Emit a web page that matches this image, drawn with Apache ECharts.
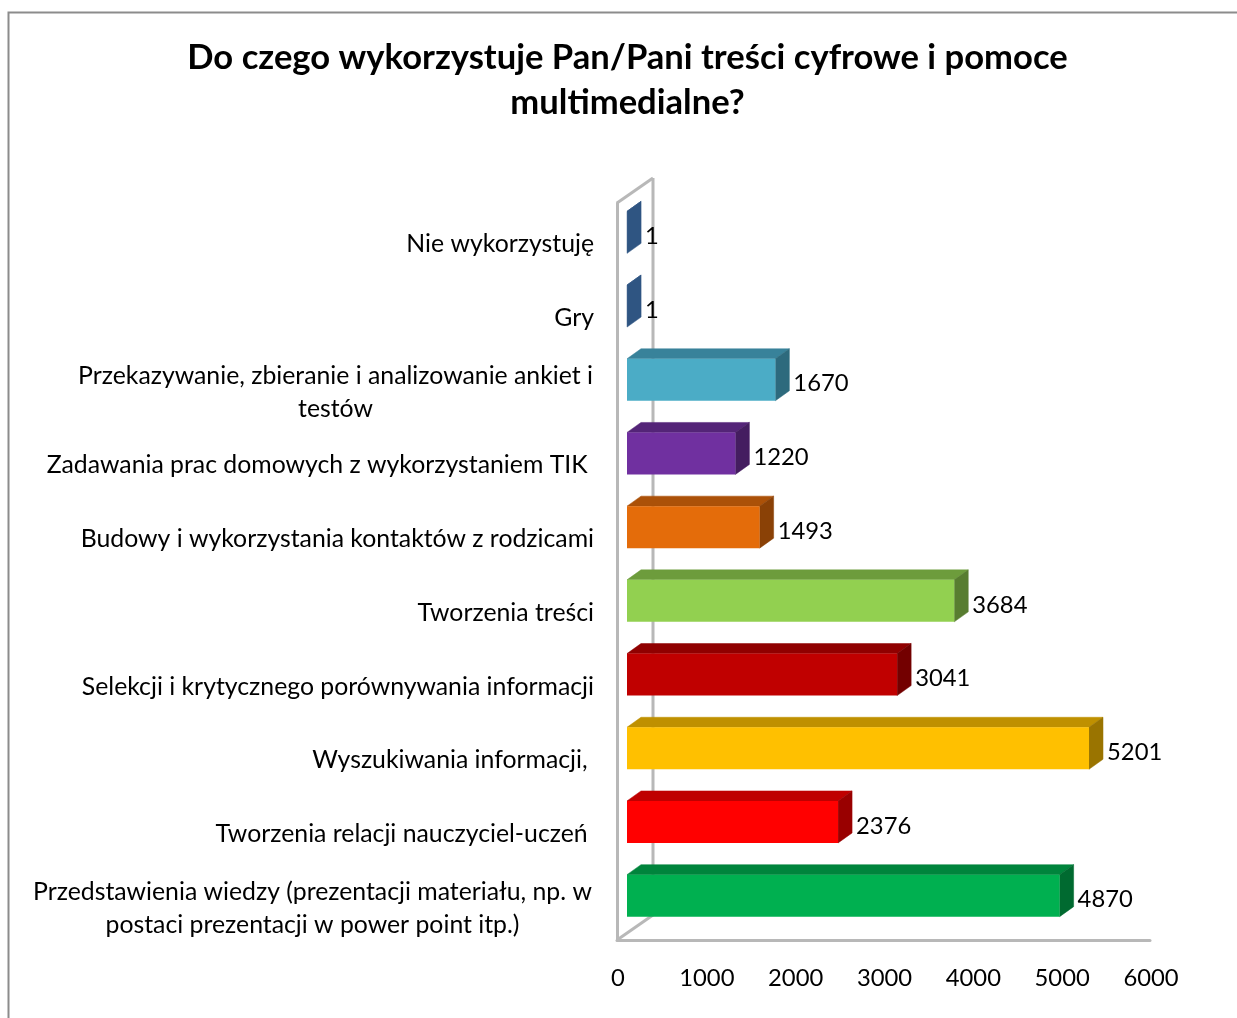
<!DOCTYPE html>
<html><head><meta charset="utf-8">
<style>html,body{margin:0;padding:0;background:#fff}#c{width:1237px;height:1018px}</style>
<script src="https://cdn.jsdelivr.net/npm/echarts@6/dist/echarts.min.js"></script>
</head><body><div id="c"></div>
<script>
const titleText = "Do czego wykorzystuje Pan/Pani treści cyfrowe i pomoce\nmultimedialne?";
const categories = [
  "Nie wykorzystuję",
  "Gry",
  "Przekazywanie, zbieranie i analizowanie ankiet i\ntestów",
  "Zadawania prac domowych z wykorzystaniem TIK ",
  "Budowy i wykorzystania kontaktów z rodzicami",
  "Tworzenia treści",
  "Selekcji i krytycznego porównywania informacji",
  "Wyszukiwania informacji, ",
  "Tworzenia relacji nauczyciel-uczeń ",
  "Przedstawienia wiedzy (prezentacji materiału, np. w\npostaci prezentacji w power point itp.)"
];
const values = [1, 1, 1670, 1220, 1493, 3684, 3041, 5201, 2376, 4870];
const xTicks = [0, 1000, 2000, 3000, 4000, 5000, 6000];
const faceColors = ["#1f497d","#1f497d","#4bacc6","#7030a0","#e46c0a","#92d050","#c00000","#ffc000","#ff0000","#00b050"];
const topColors  = ["#2f5582","#2f5582","#38829a","#542478","#ab5108","#6d9c3c","#900000","#bf9000","#bf0000","#00843c"];
const sideColors = ["#2f5582","#2f5582","#2d6a7d","#441d60","#8a4106","#587d30","#730000","#9a7400","#990000","#006a30"];

const FONT = "Lato";
const NUM_SIZE = 23.8;
const CAT_SIZE = 24.8;
const wallColor = "#b8b8b8";
const dx = 14, dy = 10;          // bar depth
const wallDx = 36, wallDy = 25;  // chart depth
const barLeftShift = 10, barUpShift = 7.5, barHeight = 42;

function barItem(params, api) {
  const i = api.value(0), v = api.value(1);
  const start = api.coord([0, i]);
  const end = api.coord([v, i]);
  const cy = start[1] - barUpShift;
  const x0 = start[0] + barLeftShift, x1 = end[0] + barLeftShift;
  const t = cy - barHeight / 2, b = cy + barHeight / 2;
  const poly = (pts, fill) => ({type: "polygon", shape: {points: pts}, style: {fill, stroke: fill, lineWidth: 0.5}});
  return {type: "group", children: [
    poly([[x0, t], [x0 + dx, t - dy], [x1 + dx, t - dy], [x1, t]], topColors[i]),
    poly([[x1, t], [x1 + dx, t - dy], [x1 + dx, b - dy], [x1, b]], sideColors[i]),
    {type: "rect", shape: {x: x0, y: t, width: x1 - x0, height: barHeight}, style: {fill: faceColors[i]}},
    {type: "text", z2: 10, style: {text: String(v), x: x1 + dx + 4, y: cy + 4, verticalAlign: "middle", align: "left",
      font: NUM_SIZE + "px " + FONT, fill: "#000"}}
  ]};
}
function wallItem(params) {
  const g = params.coordSys;
  const line = (a, b, c, d) => ({type: "line", shape: {x1: a, y1: b, x2: c, y2: d},
    style: {stroke: wallColor, lineWidth: 3}});
  const bx = g.x + wallDx;
  return {type: "group", children: [
    line(bx, g.y - wallDy, bx, g.y + g.height - wallDy),
    line(g.x, g.y, bx, g.y - wallDy),
    line(g.x, g.y + g.height, bx, g.y + g.height - wallDy)
  ]};
}
const chart = echarts.init(document.getElementById("c"), null, {renderer: "canvas"});
chart.setOption({
  animation: false,
  backgroundColor: "#fff",
  textStyle: {fontFamily: FONT},
  title: {text: titleText, left: 622.5, top: 30, textAlign: "center",
    textStyle: {fontFamily: FONT, fontWeight: "bold", fontSize: 34.6, lineHeight: 45, color: "#000"}},
  graphic: [{type: "polyline", silent: true, shape: {points: [[8.5, 1018], [8.5, 12.5], [1237, 12.5]]},
    style: {stroke: "#8c8c8c", lineWidth: 2, fill: null}}],
  grid: {left: 617, top: 203, width: 533, height: 737, containLabel: false},
  xAxis: {type: "value", position: "bottom", min: 0, max: 6000, interval: 1000,
    splitLine: {show: false}, axisTick: {show: false},
    axisLine: {show: true, lineStyle: {color: wallColor, width: 3}},
    axisLabel: {fontFamily: FONT, fontSize: NUM_SIZE, color: "#000", margin: 26, padding: [0, 0, 0, 2],
      formatter: v => xTicks.includes(v) ? String(v) : ""}},
  yAxis: {type: "category", inverse: true, data: categories,
    axisTick: {show: false},
    axisLine: {show: true, onZero: false, lineStyle: {color: wallColor, width: 3}},
    axisLabel: {margin: 23, interval: 0, fontFamily: FONT, fontSize: CAT_SIZE, color: "#000", lineHeight: 33,
      formatter: function (s) {
        if (s.indexOf("\n") < 0) return "{one|" + s + "}\n{pad|}";
        const style = s.indexOf("Przedstawienia") === 0 ? "wide" : "mid";
        return s.split("\n").map(l => "{" + style + "|" + l + "}").join("\n");
      },
      rich: {
        one: {fontFamily: FONT, fontSize: CAT_SIZE, lineHeight: 33, padding: [10, 0, 0, 0]},
        pad: {fontSize: 1, lineHeight: 1},
        mid: {fontFamily: FONT, fontSize: CAT_SIZE, lineHeight: 33, width: 517, align: "center", padding: [10, 0, 0, 0]},
        wide: {fontFamily: FONT, fontSize: CAT_SIZE, lineHeight: 33, width: 563, align: "center", padding: [10, 0, 0, 0]}
      }}},
  series: [
    {type: "custom", name: "walls", z: 1, silent: true, renderItem: wallItem, data: [[0, 0]], encode: {x: 1, y: 0}, clip: false},
    {type: "custom", name: "Liczba", z: 3, renderItem: barItem, clip: false, encode: {x: 1, y: 0},
      data: values.map((v, i) => [i, v])}
  ]
});
</script></body></html>
